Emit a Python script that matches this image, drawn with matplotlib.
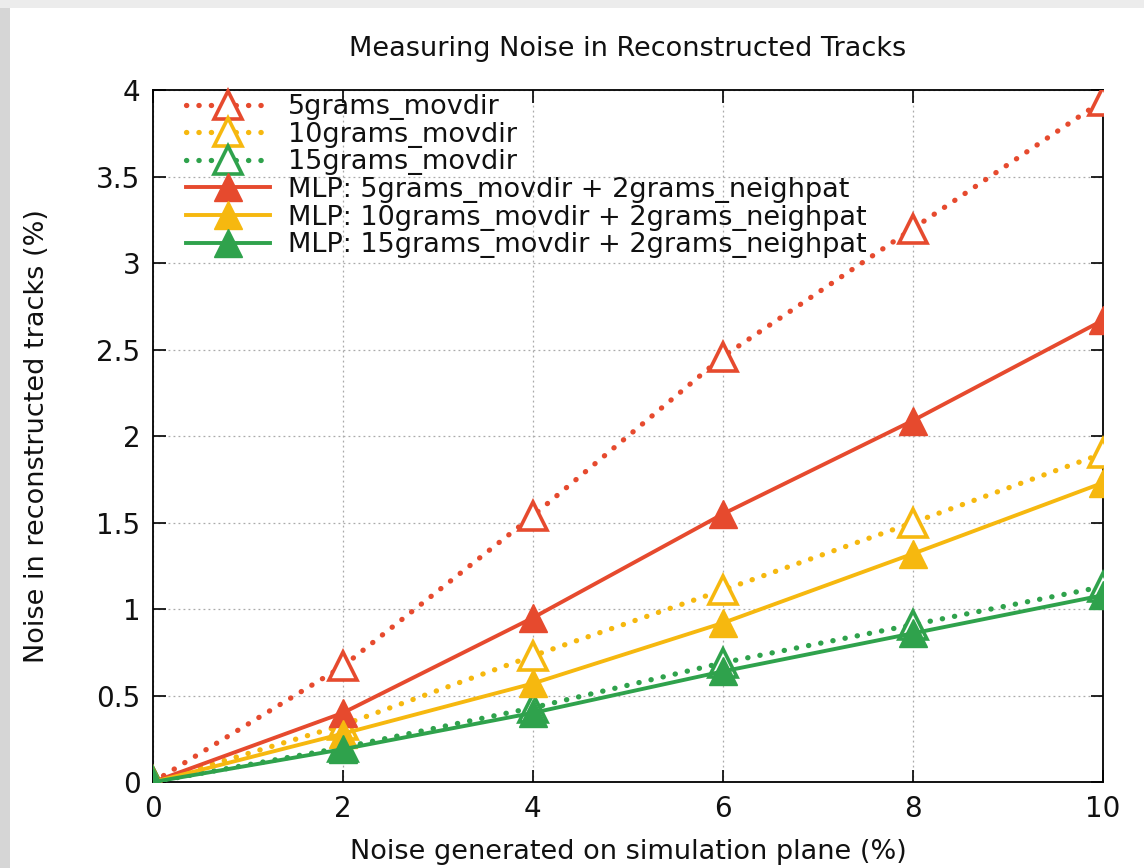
import matplotlib
matplotlib.use("Agg")
import matplotlib.pyplot as plt
from matplotlib.patches import Rectangle

x = [0, 2, 4, 6, 8, 10]
grams5 = [0.0, 0.67, 1.54, 2.46, 3.20, 3.94]
grams10 = [0.0, 0.33, 0.73, 1.11, 1.50, 1.90]
grams15 = [0.0, 0.20, 0.43, 0.69, 0.91, 1.13]
mlp5 = [0.0, 0.40, 0.95, 1.55, 2.09, 2.67]
mlp10 = [0.0, 0.28, 0.57, 0.92, 1.32, 1.73]
mlp15 = [0.0, 0.19, 0.40, 0.64, 0.86, 1.08]

labels = ["5grams_movdir", "10grams_movdir", "15grams_movdir",
          "MLP: 5grams_movdir + 2grams_neighpat",
          "MLP: 10grams_movdir + 2grams_neighpat",
          "MLP: 15grams_movdir + 2grams_neighpat"]
colors = ["#E64A2E", "#F6B80F", "#2FA24C"]
xticks = [0, 2, 4, 6, 8, 10]
yticks = [0, 0.5, 1, 1.5, 2, 2.5, 3, 3.5, 4]
yticklabels = ["0", "0.5", "1", "1.5", "2", "2.5", "3", "3.5", "4"]

fig = plt.figure(figsize=(11.44, 8.68), dpi=100)
fig.patch.set_facecolor("white")
# screenshot shadow on left/top edges
fig.patches.append(Rectangle((0, 0), 0.009, 1, transform=fig.transFigure,
                             facecolor="#d6d6d6", edgecolor="none", zorder=0))
fig.patches.append(Rectangle((0, 0.991), 1, 0.009, transform=fig.transFigure,
                             facecolor="#ececec", edgecolor="none", zorder=0))

ax = fig.add_axes([0.1337, 0.099, 0.8303, 0.797])

dot_style = (0, (0.05, 2.3))
for ys, c, lab in zip([grams5, grams10, grams15], colors, labels[:3]):
    ax.plot(x, ys, color=c, lw=3.8, linestyle=dot_style, dash_capstyle="round",
            marker="^", ms=20, mfc="white", mec=c, mew=2.6, label=lab, zorder=3)
for ys, c, lab in zip([mlp5, mlp10, mlp15], colors, labels[3:]):
    ax.plot(x, ys, color=c, lw=2.8, linestyle="-",
            marker="^", ms=20, mfc=c, mec=c, mew=1, label=lab, zorder=4)

ax.set_xlim(0, 10)
ax.set_ylim(0, 4)
ax.set_xticks(xticks)
ax.set_yticks(yticks)
ax.set_yticklabels(yticklabels)
ax.tick_params(direction="in", length=9, width=1.2, labelsize=20,
               top=True, right=True, pad=9, labelcolor="#111111")
for s in ax.spines.values():
    s.set_linewidth(1.3)
    s.set_color("black")
ax.grid(True, color="#aaaaaa", linestyle=(0, (1.5, 2.5)), linewidth=0.9)

ax.set_title("Measuring Noise in Reconstructed Tracks", fontsize=19.5, pad=25,
             color="#111111")
ax.set_xlabel("Noise generated on simulation plane (%)", fontsize=19.5,
              labelpad=12, color="#111111")
ax.set_ylabel("Noise in reconstructed tracks (%)", fontsize=19.5,
              labelpad=33, color="#111111")

leg = ax.legend(loc="upper left", bbox_to_anchor=(0.018, 1.018), frameon=False,
                fontsize=19.5, handlelength=3.1, handletextpad=0.65,
                labelspacing=0.06, numpoints=1, borderaxespad=0.2)
for t in leg.get_texts():
    t.set_color("#111111")

fig.savefig("out.png", dpi=100)
